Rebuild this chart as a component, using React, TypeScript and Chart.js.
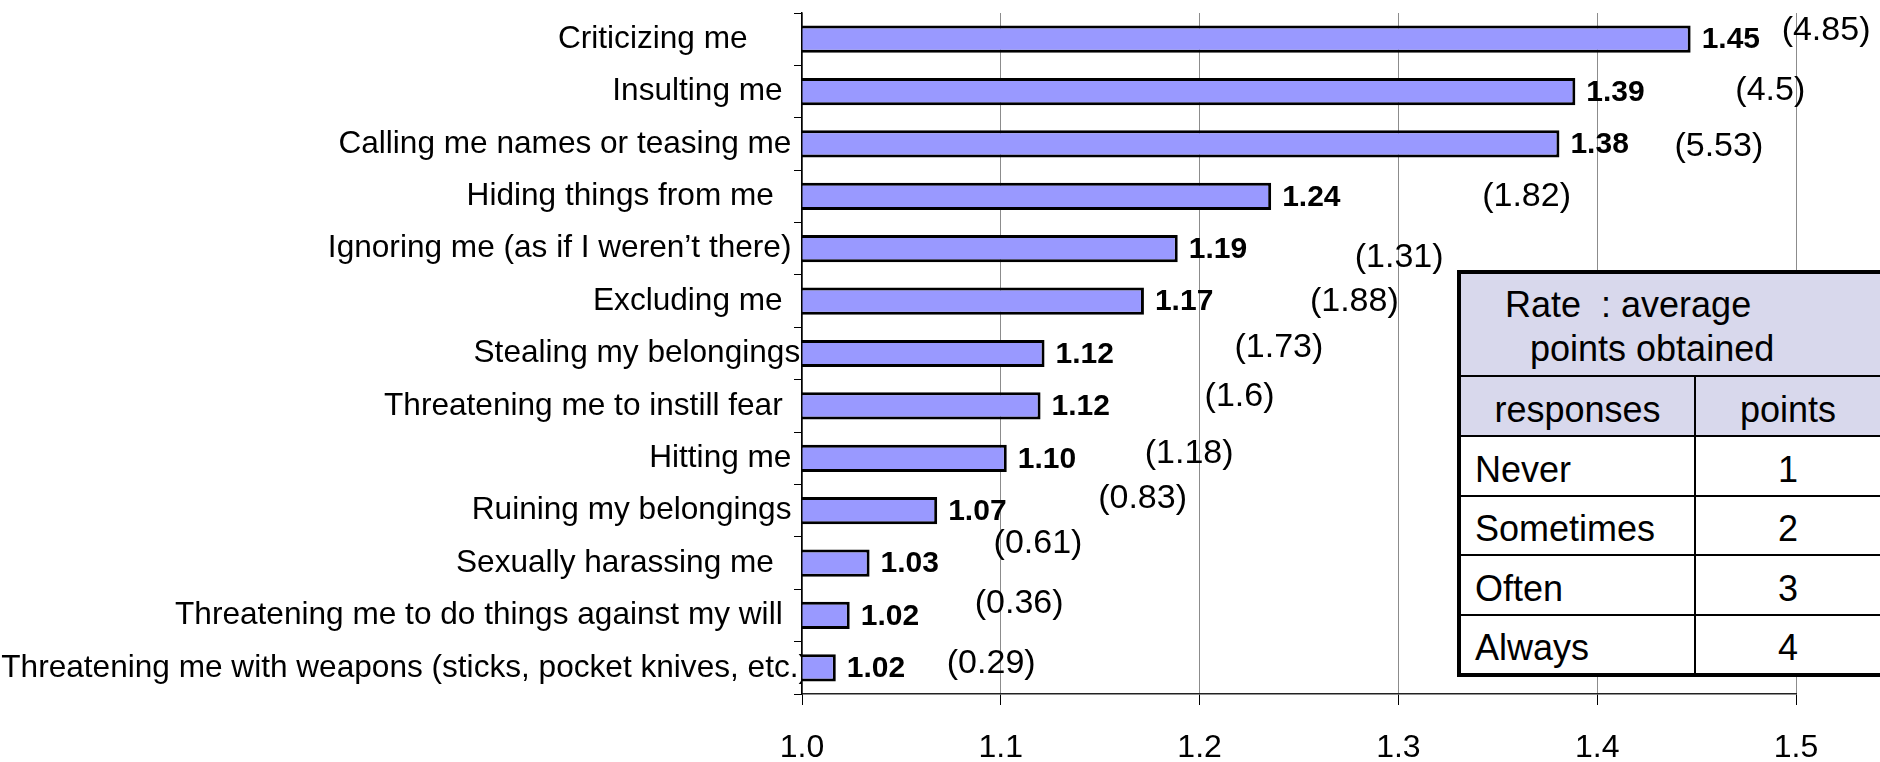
import React, { useEffect, useRef } from 'react';
import { Chart, registerables } from 'chart.js';

Chart.register(...registerables);

const FONT = "'Liberation Sans', Arial, Helvetica, sans-serif";

// ---- data ----
const categories = [
  'Criticizing me',
  'Insulting me',
  'Calling me names or teasing me',
  'Hiding things from me',
  'Ignoring me (as if I weren’t there)',
  'Excluding me',
  'Stealing my belongings',
  'Threatening me to instill fear',
  'Hitting me',
  'Ruining my belongings',
  'Sexually harassing me',
  'Threatening me to do things against my will',
  'Threatening me with weapons (sticks, pocket knives, etc.)',
];
const averagePoints = [1.447, 1.389, 1.381, 1.236, 1.189, 1.172, 1.122, 1.12, 1.103, 1.068, 1.034, 1.024, 1.017];
const frequencies = [4.85, 4.5, 5.53, 1.82, 1.31, 1.88, 1.73, 1.6, 1.18, 0.83, 0.61, 0.36, 0.29];
const xMin = 1.0;
const xMax = 1.5;
const xStep = 0.1;
const tableTitle = ['Rate  : average', 'points obtained'];
const tableHeader = ['responses', 'points'];
const responses = ['Never', 'Sometimes', 'Often', 'Always'];
const responsePoints = [1, 2, 3, 4];

// ---- layout tweaks (text placement only) ----
const labelTrailingSpaces = [7, 3, 2, 4, 2, 3, 1, 3, 2, 2, 4, 3, 0];
const freqNudgeX = [91, 160, 115, 211, 177, 166, 190, 164, 138, 161, 124, 125, 111];
const freqNudgeY = [-9, -1, 3, 0, 9, 1, -6, -9, -5, -12, -19, -12, -4];
const rowHeights = [58, 58, 57, 58, 57];

const RateTable = () => {
  const cellBase: React.CSSProperties = {
    display: 'flex',
    alignItems: 'center',
    boxSizing: 'border-box',
    paddingTop: 7,
  };
  return (
    <div
      style={{
        position: 'absolute',
        left: 1457,
        top: 270,
        width: 419,
        border: '4px solid #000',
        background: '#fff',
        fontFamily: FONT,
        fontSize: 36,
        color: '#000',
      }}
    >
      <div style={{ height: 92, background: '#D8D8EC', borderBottom: '2px solid #000', paddingTop: 9, boxSizing: 'content-box', lineHeight: '44px' }}>
        <div style={{ paddingLeft: 44, whiteSpace: 'pre' }}>{tableTitle[0]}</div>
        <div style={{ paddingLeft: 69, whiteSpace: 'pre' }}>{tableTitle[1]}</div>
      </div>
      {[tableHeader, ...responses.map((r, i) => [r, String(responsePoints[i])])].map((row, ri) => {
        const isHeader = ri === 0;
        const h = rowHeights[ri];
        const last = ri === responses.length;
        return (
          <div
            key={ri}
            style={{
              display: 'flex',
              height: h,
              background: isHeader ? '#D8D8EC' : '#fff',
              borderBottom: last ? 'none' : '2px solid #000',
            }}
          >
            <div
              style={{
                ...cellBase,
                width: 235,
                borderRight: '2px solid #000',
                justifyContent: isHeader ? 'center' : 'flex-start',
                paddingLeft: isHeader ? 0 : 14,
              }}
            >
              {row[0]}
            </div>
            <div style={{ ...cellBase, flex: 1, justifyContent: 'center' }}>{row[1]}</div>
          </div>
        );
      })}
    </div>
  );
};

const App = () => {
  const ref = useRef<HTMLCanvasElement>(null);

  useEffect(() => {
    if (!ref.current) return;
    const valueLabels = {
      id: 'valueLabels',
      afterDatasetsDraw(chart: any) {
        const meta = chart.getDatasetMeta(0);
        const c = chart.ctx as CanvasRenderingContext2D;
        c.save();
        c.fillStyle = '#000';
        c.textBaseline = 'middle';
        c.textAlign = 'left';
        meta.data.forEach((bar: any, i: number) => {
          const { x, y } = bar.getProps(['x', 'y'], true);
          c.font = `bold 30px ${FONT}`;
          c.fillText(averagePoints[i].toFixed(2), x + 11, y + 1);
          c.font = `34px ${FONT}`;
          c.fillText(`(${frequencies[i]})`, x + freqNudgeX[i], y + freqNudgeY[i]);
        });
        c.restore();
      },
    };

    const chart = new Chart(ref.current, {
      type: 'bar',
      data: {
        labels: categories,
        datasets: [
          {
            data: averagePoints,
            backgroundColor: '#9999FF',
            borderColor: '#000000',
            borderWidth: 3,
            borderSkipped: false,
            categoryPercentage: 1,
            barPercentage: 0.52,
          },
        ],
      },
      options: {
        indexAxis: 'y',
        responsive: false,
        animation: false,
        devicePixelRatio: 1,
        events: [],
        layout: { padding: { top: 13, right: 84, left: 0, bottom: 0 } },
        plugins: { legend: { display: false }, tooltip: { enabled: false } },
        scales: {
          x: {
            type: 'linear',
            position: 'bottom',
            min: xMin,
            max: xMax,
            afterFit: (scale: any) => {
              scale.height = 68;
            },
            ticks: {
              stepSize: xStep,
              color: '#000',
              padding: 24,
              font: { family: FONT, size: 32 },
              callback: (v: any) => Number(v).toFixed(1),
            },
            grid: {
              color: '#8c8c8c',
              lineWidth: 1,
              tickLength: 11,
              tickColor: '#000',
            },
            border: { display: true, color: '#222', width: 1.5 },
          },
          y: {
            type: 'category',
            position: 'left',
            z: 1,
            afterFit: (scale: any) => {
              scale.width = 802;
            },
            ticks: {
              z: 1,
              autoSkip: false,
              color: '#000',
              padding: -15,
              font: { family: FONT, size: 31.6 },
              callback: (_v: any, i: number) => categories[i] + ' '.repeat(labelTrailingSpaces[i]),
            },
            grid: {
              z: 1,
              offset: true,
              drawOnChartArea: false,
              tickLength: 8,
              color: '#000',
              tickColor: '#000',
              lineWidth: 1,
            },
            border: { z: 1, display: true, color: '#000', width: 1.5 },
          },
        },
      },
      plugins: [valueLabels],
    } as any);

    return () => chart.destroy();
  }, []);

  return (
    <div style={{ position: 'fixed', left: 0, top: 0, width: 1880, height: 762, overflow: 'hidden', background: '#fff' }}>
      <canvas ref={ref} width={1880} height={762} style={{ display: 'block', width: 1880, height: 762 }} />
      <RateTable />
    </div>
  );
};

export default App;
